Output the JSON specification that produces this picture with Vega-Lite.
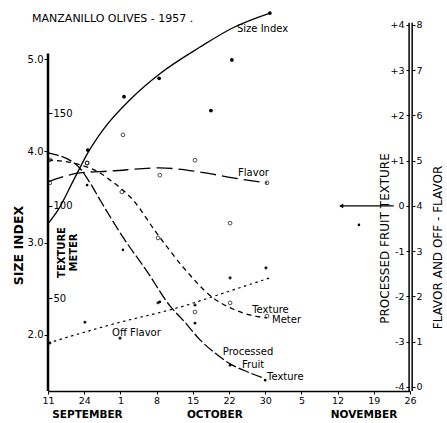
{
  "$schema": "https://vega.github.io/schema/vega-lite/v6.json",
  "width": 362,
  "height": 381,
  "autosize": "none",
  "padding": {"left": 48, "top": 10, "right": 37, "bottom": 32},
  "background": "white",
  "config": {
    "view": {"stroke": null},
    "font": "DejaVu Sans",
    "axis": {"grid": false, "labelFont": "DejaVu Sans", "titleFont": "DejaVu Sans", "domainColor": "black", "tickColor": "black", "labelColor": "black", "titleColor": "black"}
  },
  "datasets": {
    "si_line": [{"idx":0,"v":3.21},{"idx":0.28,"v":3.36},{"idx":0.69,"v":3.67},{"idx":1.1,"v":3.98},{"idx":1.52,"v":4.23},{"idx":2.35,"v":4.59},{"idx":3.09,"v":4.84},{"idx":4.2,"v":5.13},{"idx":5.11,"v":5.34},{"idx":6.13,"v":5.5}],
    "si_pts": [{"idx":1.1,"v":4.01},{"idx":2.1,"v":4.59},{"idx":3.07,"v":4.79},{"idx":4.5,"v":4.44},{"idx":5.08,"v":4.99},{"idx":6.13,"v":5.5}],
    "fl_line": [{"idx":0,"v":4.53},{"idx":0.88,"v":4.73},{"idx":1.71,"v":4.77},{"idx":3.09,"v":4.84},{"idx":4.2,"v":4.75},{"idx":5.11,"v":4.62},{"idx":6.05,"v":4.51}],
    "fl_pts": [{"idx":0.05,"v":4.51},{"idx":1.08,"v":4.95},{"idx":2.07,"v":5.57},{"idx":3.09,"v":4.68},{"idx":4.06,"v":5.01},{"idx":5.03,"v":3.62},{"idx":6.05,"v":4.51}],
    "of_line": [{"idx":0,"v":0.97},{"idx":1.71,"v":1.37},{"idx":3.84,"v":1.81},{"idx":4.53,"v":1.99},{"idx":6.13,"v":2.41}],
    "of_pts": [{"idx":0.05,"v":0.97},{"idx":1.02,"v":1.43},{"idx":1.99,"v":1.08},{"idx":3.04,"v":1.86},{"idx":4.06,"v":1.81},{"idx":5.03,"v":2.41},{"idx":6.02,"v":2.63}],
    "tm_line": [{"idx":0,"v":124.9},{"idx":0.8,"v":122.7},{"idx":1.44,"v":117.8},{"idx":1.71,"v":114.1},{"idx":2.35,"v":103.2},{"idx":2.96,"v":86.5},{"idx":3.73,"v":67.0},{"idx":4.53,"v":50.8},{"idx":5.11,"v":44.3},{"idx":5.58,"v":41.1},{"idx":6.05,"v":39.5}],
    "tm_pts": [{"idx":0.05,"v":124.9},{"idx":1.08,"v":123.2},{"idx":2.04,"v":107.6},{"idx":3.04,"v":82.7},{"idx":4.06,"v":42.7},{"idx":5.03,"v":47.6},{"idx":6.05,"v":40.5}],
    "pf_line": [{"idx":0,"v":1.17},{"idx":0.8,"v":0.9},{"idx":1.16,"v":0.51},{"idx":1.44,"v":0.13},{"idx":2.07,"v":-0.69},{"idx":2.73,"v":-1.44},{"idx":3.37,"v":-2.21},{"idx":3.78,"v":-2.57},{"idx":4.2,"v":-2.96},{"idx":4.61,"v":-3.25},{"idx":5.03,"v":-3.49},{"idx":5.52,"v":-3.67},{"idx":5.94,"v":-3.8}],
    "pf_pts": [{"idx":0,"v":1.17},{"idx":1.08,"v":0.46},{"idx":2.07,"v":-0.97},{"idx":3.09,"v":-2.12},{"idx":4.06,"v":-2.59},{"idx":5.03,"v":-3.52},{"idx":6.0,"v":-3.85},{"idx":8.59,"v":-0.42}],
    "labels": [{"text":"Size Index","idx":5.22,"v":5.33},{"text":"Flavor","idx":5.25,"v":3.76},{"text":"Texture","idx":5.64,"v":2.27},{"text":"Meter","idx":6.19,"v":2.16},{"text":"Processed","idx":4.83,"v":1.82},{"text":"Fruit","idx":5.36,"v":1.67},{"text":"Texture","idx":6.05,"v":1.54},{"text":"Off Flavor","idx":1.77,"v":2.02}],
    "heading": [{"text":"MANZANILLO OLIVES - 1957 .","idx":-0.44,"v":5.435}],
    "months": [{"text":"SEPTEMBER","idx":1.09,"v":1.13},{"text":"OCTOBER","idx":4.61,"v":1.13},{"text":"NOVEMBER","idx":8.73,"v":1.13}]
  },
  "encoding": {
    "x": {"field": "idx", "type": "quantitative", "scale": {"domain": [0, 10], "nice": false, "zero": false},
      "axis": {"orient": "bottom", "values": [0,1,2,3,4,5,6,7,8,9,10], "labelExpr": "['11','24','1','8','15','22','30','5','12','19','26'][datum.value]", "tickSize": 3, "labelPadding": 1, "labelFontSize": 9.5, "labelFlush": false, "domainWidth": 1.5, "title": null, "zindex": 1}}
  },
  "layer": [
    {
      "data": {"name": "si_line"},
      "mark": {"type": "line", "interpolate": "monotone", "color": "black", "strokeWidth": 1.3},
      "encoding": {
        "y": {"field": "v", "type": "quantitative", "scale": {"domain": [1.391, 5.533], "nice": false, "zero": false},
          "axis": {"orient": "left", "values": [2,3,4,5], "format": ".1f", "domain": false, "tickSize": 4, "labelPadding": 1, "labelFontSize": 10, "title": "SIZE INDEX", "titleFontSize": 12.5, "titleFontWeight": "bold", "titleAngle": 270, "titleX": -30, "titleY": 235, "titleAlign": "center", "titleBaseline": "middle", "zindex": 1}}
      }
    },
    {
      "data": {"name": "si_pts"},
      "mark": {"type": "point", "filled": true, "color": "black", "size": 14, "opacity": 1},
      "encoding": {
        "y": {"field": "v", "type": "quantitative", "scale": {"domain": [1.391, 5.533], "nice": false, "zero": false}, "axis": null}
      }
    },
    {
      "data": {"values": [{"from": 1.391, "to": 5.06, "idx": 0}]},
      "mark": {"type": "rule", "color": "black", "strokeWidth": 2.5},
      "encoding": {
        "y": {"field": "from", "type": "quantitative", "scale": {"domain": [1.391, 5.533], "nice": false, "zero": false}, "axis": null},
        "y2": {"field": "to"}
      }
    },
    {
      "data": {"name": "labels"},
      "mark": {"type": "text", "align": "left", "baseline": "middle", "fontSize": 10, "color": "black"},
      "encoding": {
        "y": {"field": "v", "type": "quantitative", "scale": {"domain": [1.391, 5.533], "nice": false, "zero": false}, "axis": null},
        "text": {"field": "text"}
      }
    },
    {
      "data": {"name": "heading"},
      "mark": {"type": "text", "align": "left", "baseline": "middle", "fontSize": 11, "color": "black"},
      "encoding": {
        "y": {"field": "v", "type": "quantitative", "scale": {"domain": [1.391, 5.533], "nice": false, "zero": false}, "axis": null},
        "text": {"field": "text"}
      }
    },
    {
      "data": {"name": "months"},
      "mark": {"type": "text", "align": "center", "baseline": "middle", "fontSize": 10.5, "fontWeight": "bold", "color": "black"},
      "encoding": {
        "y": {"field": "v", "type": "quantitative", "scale": {"domain": [1.391, 5.533], "nice": false, "zero": false}, "axis": null},
        "text": {"field": "text"}
      }
    },
    {
      "data": {"name": "tm_line"},
      "mark": {"type": "line", "interpolate": "monotone", "color": "black", "strokeWidth": 1.3, "strokeDash": [5, 4]},
      "encoding": {
        "y": {"field": "v", "type": "quantitative", "scale": {"domain": [0, 205.9], "nice": false, "zero": false},
          "axis": {"orient": "right", "offset": -362, "values": [50, 100, 150], "domain": false, "tickSize": 4, "labelPadding": 1, "labelFontSize": 10, "title": ["TEXTURE", "METER"], "titleFontSize": 10, "titleFontWeight": "bold", "titleAngle": 270, "titleX": 13, "titleY": 242, "titleAlign": "center", "titleBaseline": "middle", "titleLineHeight": 12, "zindex": 1}}
      }
    },
    {
      "data": {"name": "tm_pts"},
      "mark": {"type": "point", "filled": false, "color": "black", "size": 14, "strokeWidth": 1},
      "encoding": {
        "y": {"field": "v", "type": "quantitative", "scale": {"domain": [0, 205.9], "nice": false, "zero": false}, "axis": null}
      }
    },
    {
      "data": {"name": "pf_line"},
      "mark": {"type": "line", "interpolate": "monotone", "color": "black", "strokeWidth": 1.3, "strokeDash": [11, 3]},
      "encoding": {
        "y": {"field": "v", "type": "quantitative", "scale": {"domain": [-4.09, 4.33], "nice": false, "zero": false},
          "axis": {"orient": "left", "offset": -361, "values": [-4,-3,-2,-1,0,1,2,3,4], "labelExpr": "datum.value > 0 ? '+' + datum.value : '' + datum.value", "domain": false, "tickSize": 3, "labelPadding": 2, "labelFontSize": 9.5, "title": "PROCESSED FRUIT TEXTURE", "titleFontSize": 12, "titleFontWeight": "normal", "titleAngle": 270, "titleX": -25, "titleY": 228, "titleAlign": "center", "titleBaseline": "middle", "zindex": 1}}
      }
    },
    {
      "data": {"name": "pf_pts"},
      "mark": {"type": "point", "filled": true, "color": "black", "size": 7, "opacity": 1},
      "encoding": {
        "y": {"field": "v", "type": "quantitative", "scale": {"domain": [-4.09, 4.33], "nice": false, "zero": false}, "axis": null}
      }
    },
    {
      "data": {"values": [{"from": -4.09, "to": 4.05, "idx": 9.975}]},
      "mark": {"type": "rule", "color": "black", "strokeWidth": 1.5},
      "encoding": {
        "y": {"field": "from", "type": "quantitative", "scale": {"domain": [-4.09, 4.33], "nice": false, "zero": false}, "axis": null},
        "y2": {"field": "to"}
      }
    },
    {
      "data": {"values": [{"idx": 8.07, "idx2": 9.55, "v": 0}]},
      "mark": {"type": "rule", "color": "black", "strokeWidth": 1.2},
      "encoding": {
        "x2": {"field": "idx2"},
        "y": {"field": "v", "type": "quantitative", "scale": {"domain": [-4.09, 4.33], "nice": false, "zero": false}, "axis": null}
      }
    },
    {
      "data": {"values": [{"idx": 8.1, "v": 0}]},
      "mark": {"type": "point", "shape": "triangle-left", "filled": true, "color": "black", "size": 22, "opacity": 1},
      "encoding": {
        "y": {"field": "v", "type": "quantitative", "scale": {"domain": [-4.09, 4.33], "nice": false, "zero": false}, "axis": null}
      }
    },
    {
      "data": {"name": "fl_line"},
      "mark": {"type": "line", "interpolate": "monotone", "color": "black", "strokeWidth": 1.3, "strokeDash": [16, 6]},
      "encoding": {
        "y": {"field": "v", "type": "quantitative", "scale": {"domain": [-0.09, 8.33], "nice": false, "zero": false},
          "axis": {"orient": "right", "offset": 2, "values": [0,1,2,3,4,5,6,7,8], "domain": false, "tickSize": 3, "labelPadding": 1, "labelFontSize": 9.5, "title": "FLAVOR AND OFF - FLAVOR", "titleFontSize": 12, "titleFontWeight": "normal", "titleAngle": 270, "titleX": 25, "titleY": 237, "titleAlign": "center", "titleBaseline": "middle", "zindex": 1}}
      }
    },
    {
      "data": {"name": "fl_pts"},
      "mark": {"type": "point", "filled": false, "color": "black", "size": 14, "strokeWidth": 1},
      "encoding": {
        "y": {"field": "v", "type": "quantitative", "scale": {"domain": [-0.09, 8.33], "nice": false, "zero": false}, "axis": null}
      }
    },
    {
      "data": {"name": "of_line"},
      "mark": {"type": "line", "interpolate": "monotone", "color": "black", "strokeWidth": 1.2, "strokeDash": [2.5, 3.5]},
      "encoding": {
        "y": {"field": "v", "type": "quantitative", "scale": {"domain": [-0.09, 8.33], "nice": false, "zero": false}, "axis": null}
      }
    },
    {
      "data": {"name": "of_pts"},
      "mark": {"type": "point", "shape": "cross", "filled": true, "color": "black", "size": 10, "opacity": 1},
      "encoding": {
        "y": {"field": "v", "type": "quantitative", "scale": {"domain": [-0.09, 8.33], "nice": false, "zero": false}, "axis": null}
      }
    },
    {
      "data": {"values": [{"from": -0.09, "to": 8.05, "idx": 10.06}]},
      "mark": {"type": "rule", "color": "black", "strokeWidth": 1.5},
      "encoding": {
        "y": {"field": "from", "type": "quantitative", "scale": {"domain": [-0.09, 8.33], "nice": false, "zero": false}, "axis": null},
        "y2": {"field": "to"}
      }
    }
  ],
  "resolve": {"scale": {"y": "independent"}, "axis": {"y": "independent"}}
}
